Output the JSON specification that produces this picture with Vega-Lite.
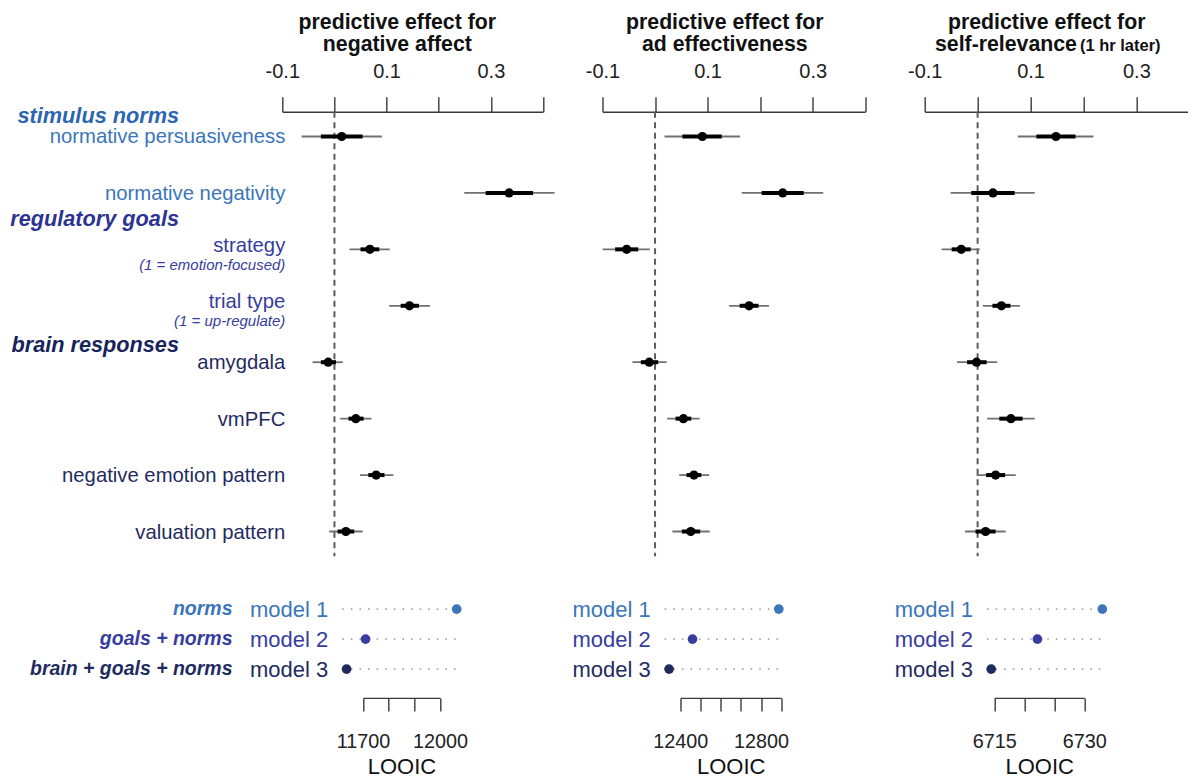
{
  "$schema": "https://vega.github.io/schema/vega-lite/v6.json",
  "background": "white",
  "padding": {"left": 9.3, "top": 10.8, "right": 0, "bottom": 0},
  "config": {
    "view": {"stroke": null},
    "font": "Liberation Sans",
    "text": {"font": "Liberation Sans"},
    "axis": {"labelFont": "Liberation Sans", "titleFont": "Liberation Sans"}
  },
  "datasets": {
    "effects": [
      {"outcome": "negative affect", "predictor": "normative persuasiveness", "est": 0.014, "lo95": -0.063, "hi95": 0.091, "lo_in": -0.026, "hi_in": 0.054},
      {"outcome": "negative affect", "predictor": "normative negativity", "est": 0.335, "lo95": 0.249, "hi95": 0.422, "lo_in": 0.290, "hi_in": 0.381},
      {"outcome": "negative affect", "predictor": "strategy", "est": 0.068, "lo95": 0.029, "hi95": 0.106, "lo_in": 0.050, "hi_in": 0.086},
      {"outcome": "negative affect", "predictor": "trial type", "est": 0.144, "lo95": 0.105, "hi95": 0.183, "lo_in": 0.127, "hi_in": 0.162},
      {"outcome": "negative affect", "predictor": "amygdala", "est": -0.012, "lo95": -0.042, "hi95": 0.016, "lo_in": -0.026, "hi_in": 0.003},
      {"outcome": "negative affect", "predictor": "vmPFC", "est": 0.041, "lo95": 0.011, "hi95": 0.071, "lo_in": 0.027, "hi_in": 0.056},
      {"outcome": "negative affect", "predictor": "negative emotion pattern", "est": 0.080, "lo95": 0.049, "hi95": 0.113, "lo_in": 0.065, "hi_in": 0.096},
      {"outcome": "negative affect", "predictor": "valuation pattern", "est": 0.022, "lo95": -0.010, "hi95": 0.054, "lo_in": 0.006, "hi_in": 0.038},
      {"outcome": "ad effectiveness", "predictor": "normative persuasiveness", "est": 0.090, "lo95": 0.018, "hi95": 0.162, "lo_in": 0.052, "hi_in": 0.127},
      {"outcome": "ad effectiveness", "predictor": "normative negativity", "est": 0.243, "lo95": 0.165, "hi95": 0.320, "lo_in": 0.203, "hi_in": 0.283},
      {"outcome": "ad effectiveness", "predictor": "strategy", "est": -0.054, "lo95": -0.100, "hi95": -0.010, "lo_in": -0.076, "hi_in": -0.032},
      {"outcome": "ad effectiveness", "predictor": "trial type", "est": 0.179, "lo95": 0.141, "hi95": 0.217, "lo_in": 0.161, "hi_in": 0.197},
      {"outcome": "ad effectiveness", "predictor": "amygdala", "est": -0.011, "lo95": -0.043, "hi95": 0.022, "lo_in": -0.027, "hi_in": 0.006},
      {"outcome": "ad effectiveness", "predictor": "vmPFC", "est": 0.054, "lo95": 0.023, "hi95": 0.085, "lo_in": 0.039, "hi_in": 0.069},
      {"outcome": "ad effectiveness", "predictor": "negative emotion pattern", "est": 0.074, "lo95": 0.046, "hi95": 0.103, "lo_in": 0.060, "hi_in": 0.088},
      {"outcome": "ad effectiveness", "predictor": "valuation pattern", "est": 0.068, "lo95": 0.033, "hi95": 0.104, "lo_in": 0.051, "hi_in": 0.086},
      {"outcome": "self-relevance", "predictor": "normative persuasiveness", "est": 0.148, "lo95": 0.076, "hi95": 0.219, "lo_in": 0.111, "hi_in": 0.185},
      {"outcome": "self-relevance", "predictor": "normative negativity", "est": 0.029, "lo95": -0.051, "hi95": 0.108, "lo_in": -0.012, "hi_in": 0.070},
      {"outcome": "self-relevance", "predictor": "strategy", "est": -0.031, "lo95": -0.068, "hi95": 0.004, "lo_in": -0.049, "hi_in": -0.013},
      {"outcome": "self-relevance", "predictor": "trial type", "est": 0.045, "lo95": 0.010, "hi95": 0.080, "lo_in": 0.028, "hi_in": 0.062},
      {"outcome": "self-relevance", "predictor": "amygdala", "est": -0.002, "lo95": -0.039, "hi95": 0.037, "lo_in": -0.020, "hi_in": 0.017},
      {"outcome": "self-relevance", "predictor": "vmPFC", "est": 0.063, "lo95": 0.018, "hi95": 0.108, "lo_in": 0.041, "hi_in": 0.085},
      {"outcome": "self-relevance", "predictor": "negative emotion pattern", "est": 0.034, "lo95": -0.002, "hi95": 0.072, "lo_in": 0.016, "hi_in": 0.052},
      {"outcome": "self-relevance", "predictor": "valuation pattern", "est": 0.015, "lo95": -0.024, "hi95": 0.053, "lo_in": -0.004, "hi_in": 0.034}
    ],
    "predictors": [
      {"predictor": "normative persuasiveness", "group": "stimulus norms", "note": ""},
      {"predictor": "normative negativity", "group": "stimulus norms", "note": ""},
      {"predictor": "strategy", "group": "regulatory goals", "note": "(1 = emotion-focused)"},
      {"predictor": "trial type", "group": "regulatory goals", "note": "(1 = up-regulate)"},
      {"predictor": "amygdala", "group": "brain responses", "note": ""},
      {"predictor": "vmPFC", "group": "brain responses", "note": ""},
      {"predictor": "negative emotion pattern", "group": "brain responses", "note": ""},
      {"predictor": "valuation pattern", "group": "brain responses", "note": ""}
    ],
    "looic": [
      {"outcome": "negative affect", "model": "model 1", "spec": "norms", "looic": 12065},
      {"outcome": "negative affect", "model": "model 2", "spec": "goals + norms", "looic": 11710},
      {"outcome": "negative affect", "model": "model 3", "spec": "brain + goals + norms", "looic": 11636},
      {"outcome": "ad effectiveness", "model": "model 1", "spec": "norms", "looic": 12888},
      {"outcome": "ad effectiveness", "model": "model 2", "spec": "goals + norms", "looic": 12461},
      {"outcome": "ad effectiveness", "model": "model 3", "spec": "brain + goals + norms", "looic": 12345},
      {"outcome": "self-relevance", "model": "model 1", "spec": "norms", "looic": 6733.0},
      {"outcome": "self-relevance", "model": "model 2", "spec": "goals + norms", "looic": 6722.2},
      {"outcome": "self-relevance", "model": "model 3", "spec": "brain + goals + norms", "looic": 6714.5}
    ]
  },
  "columns": 3,
  "bounds": "flush",
  "spacing": {"row": 23.5, "column": 59.2},
  "concat": [
    {
      "width": 260.7,
      "height": 444.4,
      "layer": [
        {"data": {"values": [{}]}, "mark": {"type": "rule", "strokeDash": [6, 4.5], "strokeWidth": 2, "color": "#5c5c5c"}, "encoding": {"x": {"datum": 0}}},
        {"data": {"name": "effects"}, "transform": [{"filter": "datum.outcome == 'negative affect'"}],
         "mark": {"type": "rule", "strokeWidth": 1.8, "color": "#707070"},
         "encoding": {
           "x": {"field": "lo95", "type": "quantitative", "scale": {"domain": [-0.1, 0.4], "nice": false, "zero": false},
                 "axis": {"orient": "top", "values": [-0.1, 0, 0.1, 0.2, 0.3, 0.4], "labelExpr": "datum.value < -0.05 ? '-0.1' : (abs(datum.value - 0.1) < 0.01 ? '0.1' : (abs(datum.value - 0.3) < 0.01 ? '0.3' : ''))", "title": null, "grid": false, "tickSize": 15, "labelPadding": 15, "labelFontSize": 20, "labelColor": "#222222", "domainColor": "#3a3a3a", "tickColor": "#3a3a3a", "domainWidth": 1.4, "tickWidth": 1.4, "labelFlush": false, "labelOverlap": false, "labelBound": false}},
           "x2": {"field": "hi95"},
           "y": {"field": "predictor", "type": "nominal", "sort": null, "scale": {"type": "point", "domain": ["normative persuasiveness", "normative negativity", "strategy", "trial type", "amygdala", "vmPFC", "negative emotion pattern", "valuation pattern"], "padding": 0.4375}, "axis": null}
         }},
        {"data": {"name": "effects"}, "transform": [{"filter": "datum.outcome == 'negative affect'"}],
         "mark": {"type": "rule", "strokeWidth": 4, "color": "#000000"},
         "encoding": {"x": {"field": "lo_in", "type": "quantitative"}, "x2": {"field": "hi_in"}, "y": {"field": "predictor", "type": "nominal"}}},
        {"data": {"name": "effects"}, "transform": [{"filter": "datum.outcome == 'negative affect'"}],
         "mark": {"type": "point", "filled": true, "size": 85, "color": "#000000", "opacity": 1},
         "encoding": {"x": {"field": "est", "type": "quantitative"}, "y": {"field": "predictor", "type": "nominal"}}},
        {"data": {"values": [{}]}, "mark": {"type": "text", "text": "predictive effect for", "fontSize": 21.3, "fontWeight": "bold", "baseline": "alphabetic", "align": "center", "dy": -107.9, "color": "#111111"},
         "encoding": {"x": {"datum": 0.1206}, "y": {"datum": "normative persuasiveness"}}},
        {"data": {"values": [{}]}, "mark": {"type": "text", "text": "negative affect", "fontSize": 21.3, "fontWeight": "bold", "baseline": "alphabetic", "align": "center", "dy": -85.9, "color": "#111111"},
         "encoding": {"x": {"datum": 0.1206}, "y": {"datum": "normative persuasiveness"}}},
        {"data": {"name": "predictors"}, "transform": [{"filter": "datum.note == ''"}],
         "mark": {"type": "text", "align": "right", "baseline": "middle", "fontSize": 20.3, "dx": 3, "dy": 1},
         "encoding": {"x": {"datum": -0.1}, "y": {"field": "predictor", "type": "nominal"}, "text": {"field": "predictor"},
           "color": {"field": "group", "type": "nominal", "scale": {"domain": ["stimulus norms", "regulatory goals", "brain responses"], "range": ["#3a76b9", "#363d9e", "#1f2b5e"]}, "legend": null}}},
        {"data": {"name": "predictors"}, "transform": [{"filter": "datum.note != ''"}],
         "mark": {"type": "text", "align": "right", "baseline": "middle", "fontSize": 20.3, "dx": 3, "dy": -3.3},
         "encoding": {"x": {"datum": -0.1}, "y": {"field": "predictor", "type": "nominal"}, "text": {"field": "predictor"}, "color": {"field": "group", "type": "nominal"}}},
        {"data": {"name": "predictors"}, "transform": [{"filter": "datum.note != ''"}],
         "mark": {"type": "text", "align": "right", "baseline": "middle", "fontSize": 15, "fontStyle": "italic", "dx": 3, "dy": 15.5, "color": "#363d9e"},
         "encoding": {"x": {"datum": -0.1}, "y": {"field": "predictor", "type": "nominal"}, "text": {"field": "note"}}},
        {"data": {"name": "predictors"}, "transform": [{"filter": "datum.predictor == 'normative persuasiveness'"}],
         "mark": {"type": "text", "align": "right", "baseline": "middle", "fontSize": 21.7, "fontStyle": "italic", "fontWeight": "bold", "dx": -103.3, "dy": -20.7, "color": "#2c65b0"},
         "encoding": {"x": {"datum": -0.1}, "y": {"field": "predictor", "type": "nominal"}, "text": {"field": "group"}}},
        {"data": {"name": "predictors"}, "transform": [{"filter": "datum.predictor == 'strategy'"}],
         "mark": {"type": "text", "align": "right", "baseline": "middle", "fontSize": 21.7, "fontStyle": "italic", "fontWeight": "bold", "dx": -103.3, "dy": -30, "color": "#2c3393"},
         "encoding": {"x": {"datum": -0.1}, "y": {"field": "predictor", "type": "nominal"}, "text": {"field": "group"}}},
        {"data": {"name": "predictors"}, "transform": [{"filter": "datum.predictor == 'amygdala'"}],
         "mark": {"type": "text", "align": "right", "baseline": "middle", "fontSize": 21.7, "fontStyle": "italic", "fontWeight": "bold", "dx": -103.3, "dy": -17.3, "color": "#17235b"},
         "encoding": {"x": {"datum": -0.1}, "y": {"field": "predictor", "type": "nominal"}, "text": {"field": "group"}}}
      ]
    },
    {
      "width": 262.7,
      "height": 444.4,
      "layer": [
        {"data": {"values": [{}]}, "mark": {"type": "rule", "strokeDash": [6, 4.5], "strokeWidth": 2, "color": "#5c5c5c"}, "encoding": {"x": {"datum": 0}}},
        {"data": {"name": "effects"}, "transform": [{"filter": "datum.outcome == 'ad effectiveness'"}],
         "mark": {"type": "rule", "strokeWidth": 1.8, "color": "#707070"},
         "encoding": {
           "x": {"field": "lo95", "type": "quantitative", "scale": {"domain": [-0.1, 0.4], "nice": false, "zero": false},
                 "axis": {"orient": "top", "values": [-0.1, 0, 0.1, 0.2, 0.3, 0.4], "labelExpr": "datum.value < -0.05 ? '-0.1' : (abs(datum.value - 0.1) < 0.01 ? '0.1' : (abs(datum.value - 0.3) < 0.01 ? '0.3' : ''))", "title": null, "grid": false, "tickSize": 15, "labelPadding": 15, "labelFontSize": 20, "labelColor": "#222222", "domainColor": "#3a3a3a", "tickColor": "#3a3a3a", "domainWidth": 1.4, "tickWidth": 1.4, "labelFlush": false, "labelOverlap": false, "labelBound": false}},
           "x2": {"field": "hi95"},
           "y": {"field": "predictor", "type": "nominal", "sort": null, "scale": {"type": "point", "domain": ["normative persuasiveness", "normative negativity", "strategy", "trial type", "amygdala", "vmPFC", "negative emotion pattern", "valuation pattern"], "padding": 0.4375}, "axis": null}
         }},
        {"data": {"name": "effects"}, "transform": [{"filter": "datum.outcome == 'ad effectiveness'"}],
         "mark": {"type": "rule", "strokeWidth": 4, "color": "#000000"},
         "encoding": {"x": {"field": "lo_in", "type": "quantitative"}, "x2": {"field": "hi_in"}, "y": {"field": "predictor", "type": "nominal"}}},
        {"data": {"name": "effects"}, "transform": [{"filter": "datum.outcome == 'ad effectiveness'"}],
         "mark": {"type": "point", "filled": true, "size": 85, "color": "#000000", "opacity": 1},
         "encoding": {"x": {"field": "est", "type": "quantitative"}, "y": {"field": "predictor", "type": "nominal"}}},
        {"data": {"values": [{}]}, "mark": {"type": "text", "text": "predictive effect for", "fontSize": 21.3, "fontWeight": "bold", "baseline": "alphabetic", "align": "center", "dy": -107.9, "color": "#111111"},
         "encoding": {"x": {"datum": 0.1327}, "y": {"datum": "normative persuasiveness"}}},
        {"data": {"values": [{}]}, "mark": {"type": "text", "text": "ad effectiveness", "fontSize": 21.3, "fontWeight": "bold", "baseline": "alphabetic", "align": "center", "dy": -85.9, "color": "#111111"},
         "encoding": {"x": {"datum": 0.1327}, "y": {"datum": "normative persuasiveness"}}}
      ]
    },
    {
      "width": 264.6,
      "height": 444.4,
      "layer": [
        {"data": {"values": [{}]}, "mark": {"type": "rule", "strokeDash": [6, 4.5], "strokeWidth": 2, "color": "#5c5c5c"}, "encoding": {"x": {"datum": 0}}},
        {"data": {"name": "effects"}, "transform": [{"filter": "datum.outcome == 'self-relevance'"}],
         "mark": {"type": "rule", "strokeWidth": 1.8, "color": "#707070"},
         "encoding": {
           "x": {"field": "lo95", "type": "quantitative", "scale": {"domain": [-0.1, 0.4], "nice": false, "zero": false},
                 "axis": {"orient": "top", "values": [-0.1, 0, 0.1, 0.2, 0.3, 0.4], "labelExpr": "datum.value < -0.05 ? '-0.1' : (abs(datum.value - 0.1) < 0.01 ? '0.1' : (abs(datum.value - 0.3) < 0.01 ? '0.3' : ''))", "title": null, "grid": false, "tickSize": 15, "labelPadding": 15, "labelFontSize": 20, "labelColor": "#222222", "domainColor": "#3a3a3a", "tickColor": "#3a3a3a", "domainWidth": 1.4, "tickWidth": 1.4, "labelFlush": false, "labelOverlap": false, "labelBound": false}},
           "x2": {"field": "hi95"},
           "y": {"field": "predictor", "type": "nominal", "sort": null, "scale": {"type": "point", "domain": ["normative persuasiveness", "normative negativity", "strategy", "trial type", "amygdala", "vmPFC", "negative emotion pattern", "valuation pattern"], "padding": 0.4375}, "axis": null}
         }},
        {"data": {"name": "effects"}, "transform": [{"filter": "datum.outcome == 'self-relevance'"}],
         "mark": {"type": "rule", "strokeWidth": 4, "color": "#000000"},
         "encoding": {"x": {"field": "lo_in", "type": "quantitative"}, "x2": {"field": "hi_in"}, "y": {"field": "predictor", "type": "nominal"}}},
        {"data": {"name": "effects"}, "transform": [{"filter": "datum.outcome == 'self-relevance'"}],
         "mark": {"type": "point", "filled": true, "size": 85, "color": "#000000", "opacity": 1},
         "encoding": {"x": {"field": "est", "type": "quantitative"}, "y": {"field": "predictor", "type": "nominal"}}},
        {"data": {"values": [{}]}, "mark": {"type": "text", "text": "predictive effect for", "fontSize": 21.3, "fontWeight": "bold", "baseline": "alphabetic", "align": "center", "dy": -107.9, "color": "#111111"},
         "encoding": {"x": {"datum": 0.1306}, "y": {"datum": "normative persuasiveness"}}},
        {"data": {"values": [{}]}, "mark": {"type": "text", "text": "self-relevance", "fontSize": 21.3, "fontWeight": "bold", "baseline": "alphabetic", "align": "right", "dx": -1, "dy": -85.9, "color": "#111111"},
         "encoding": {"x": {"datum": 0.1896}, "y": {"datum": "normative persuasiveness"}}},
        {"data": {"values": [{}]}, "mark": {"type": "text", "text": "(1 hr later)", "fontSize": 16.5, "fontWeight": "bold", "baseline": "alphabetic", "align": "left", "dx": 2, "dy": -85.9, "color": "#111111"},
         "encoding": {"x": {"datum": 0.1896}, "y": {"datum": "normative persuasiveness"}}}
      ]
    },
    {
      "width": 260.7,
      "height": 117.6,
      "layer": [
        {"data": {"name": "looic"}, "transform": [{"filter": "datum.outcome == 'negative affect'"}],
         "mark": {"type": "rule", "strokeDash": [1.6, 7], "strokeWidth": 1.8, "color": "#a8a8a8"},
         "encoding": {"x": {"datum": 11619}, "x2": {"datum": 12082},
           "y": {"field": "model", "type": "nominal", "scale": {"type": "point", "domain": ["model 1", "model 2", "model 3"], "padding": 0.96}, "axis": null}}},
        {"data": {"name": "looic"}, "transform": [{"filter": "datum.outcome == 'negative affect'"}],
         "mark": {"type": "point", "filled": true, "size": 95, "opacity": 1},
         "encoding": {
           "x": {"field": "looic", "type": "quantitative", "scale": {"domain": [11700, 12000], "range": [80.7, 157.7], "nice": false, "zero": false},
                 "axis": {"orient": "bottom", "values": [11700, 11800, 11900, 12000], "labelExpr": "(datum.value == 11700 || datum.value == 12000) ? '' + datum.value : ''", "title": "LOOIC", "titleFontSize": 22, "titleFontWeight": "normal", "titleColor": "#111111", "titlePadding": 5, "grid": false, "tickSize": 13, "labelPadding": 21, "labelFontSize": 19.8, "labelColor": "#222222", "domainColor": "#3a3a3a", "tickColor": "#3a3a3a", "domainWidth": 1.4, "tickWidth": 1.4, "labelFlush": false, "labelOverlap": false, "labelBound": false}},
           "y": {"field": "model", "type": "nominal"},
           "color": {"field": "model", "type": "nominal", "scale": {"domain": ["model 1", "model 2", "model 3"], "range": ["#3473b9", "#2d3a9c", "#0f1d4f"]}, "legend": null}
         }},
        {"data": {"name": "looic"}, "transform": [{"filter": "datum.outcome == 'negative affect'"}],
         "mark": {"type": "text", "align": "right", "baseline": "middle", "fontSize": 22, "dx": -14, "dy": 1},
         "encoding": {"x": {"datum": 11619}, "y": {"field": "model", "type": "nominal"}, "text": {"field": "model"}, "color": {"field": "model", "type": "nominal"}}},
        {"data": {"name": "looic"}, "transform": [{"filter": "datum.outcome == 'negative affect'"}],
         "mark": {"type": "text", "align": "right", "baseline": "middle", "fontSize": 19.5, "fontStyle": "italic", "fontWeight": "bold", "dx": -109.7, "dy": 0},
         "encoding": {"x": {"datum": 11619}, "y": {"field": "model", "type": "nominal"}, "text": {"field": "spec"}, "color": {"field": "model", "type": "nominal"}}}
      ]
    },
    {
      "width": 262.7,
      "height": 117.6,
      "layer": [
        {"data": {"name": "looic"}, "transform": [{"filter": "datum.outcome == 'ad effectiveness'"}],
         "mark": {"type": "rule", "strokeDash": [1.6, 7], "strokeWidth": 1.8, "color": "#a8a8a8"},
         "encoding": {"x": {"datum": 12323}, "x2": {"datum": 12910},
           "y": {"field": "model", "type": "nominal", "scale": {"type": "point", "domain": ["model 1", "model 2", "model 3"], "padding": 0.96}, "axis": null}}},
        {"data": {"name": "looic"}, "transform": [{"filter": "datum.outcome == 'ad effectiveness'"}],
         "mark": {"type": "point", "filled": true, "size": 95, "opacity": 1},
         "encoding": {
           "x": {"field": "looic", "type": "quantitative", "scale": {"domain": [12400, 12900], "range": [77.7, 178.7], "nice": false, "zero": false},
                 "axis": {"orient": "bottom", "values": [12400, 12500, 12600, 12700, 12800, 12900], "labelExpr": "(datum.value == 12400 || datum.value == 12800) ? '' + datum.value : ''", "title": "LOOIC", "titleFontSize": 22, "titleFontWeight": "normal", "titleColor": "#111111", "titlePadding": 5, "grid": false, "tickSize": 13, "labelPadding": 21, "labelFontSize": 19.8, "labelColor": "#222222", "domainColor": "#3a3a3a", "tickColor": "#3a3a3a", "domainWidth": 1.4, "tickWidth": 1.4, "labelFlush": false, "labelOverlap": false, "labelBound": false}},
           "y": {"field": "model", "type": "nominal"},
           "color": {"field": "model", "type": "nominal", "scale": {"domain": ["model 1", "model 2", "model 3"], "range": ["#3473b9", "#2d3a9c", "#0f1d4f"]}, "legend": null}
         }},
        {"data": {"name": "looic"}, "transform": [{"filter": "datum.outcome == 'ad effectiveness'"}],
         "mark": {"type": "text", "align": "right", "baseline": "middle", "fontSize": 22, "dx": -14, "dy": 1},
         "encoding": {"x": {"datum": 12323}, "y": {"field": "model", "type": "nominal"}, "text": {"field": "model"}, "color": {"field": "model", "type": "nominal"}}}
      ]
    },
    {
      "width": 264.6,
      "height": 117.6,
      "layer": [
        {"data": {"name": "looic"}, "transform": [{"filter": "datum.outcome == 'self-relevance'"}],
         "mark": {"type": "rule", "strokeDash": [1.6, 7], "strokeWidth": 1.8, "color": "#a8a8a8"},
         "encoding": {"x": {"datum": 6713.8}, "x2": {"datum": 6733.7},
           "y": {"field": "model", "type": "nominal", "scale": {"type": "point", "domain": ["model 1", "model 2", "model 3"], "padding": 0.96}, "axis": null}}},
        {"data": {"name": "looic"}, "transform": [{"filter": "datum.outcome == 'self-relevance'"}],
         "mark": {"type": "point", "filled": true, "size": 95, "opacity": 1},
         "encoding": {
           "x": {"field": "looic", "type": "quantitative", "scale": {"domain": [6715, 6730], "range": [69.5, 159.6], "nice": false, "zero": false},
                 "axis": {"orient": "bottom", "values": [6715, 6720, 6725, 6730], "labelExpr": "(datum.value == 6715 || datum.value == 6730) ? '' + datum.value : ''", "title": "LOOIC", "titleFontSize": 22, "titleFontWeight": "normal", "titleColor": "#111111", "titlePadding": 5, "grid": false, "tickSize": 13, "labelPadding": 21, "labelFontSize": 19.8, "labelColor": "#222222", "domainColor": "#3a3a3a", "tickColor": "#3a3a3a", "domainWidth": 1.4, "tickWidth": 1.4, "labelFlush": false, "labelOverlap": false, "labelBound": false}},
           "y": {"field": "model", "type": "nominal"},
           "color": {"field": "model", "type": "nominal", "scale": {"domain": ["model 1", "model 2", "model 3"], "range": ["#3473b9", "#2d3a9c", "#0f1d4f"]}, "legend": null}
         }},
        {"data": {"name": "looic"}, "transform": [{"filter": "datum.outcome == 'self-relevance'"}],
         "mark": {"type": "text", "align": "right", "baseline": "middle", "fontSize": 22, "dx": -14, "dy": 1},
         "encoding": {"x": {"datum": 6713.8}, "y": {"field": "model", "type": "nominal"}, "text": {"field": "model"}, "color": {"field": "model", "type": "nominal"}}}
      ]
    }
  ]
}
